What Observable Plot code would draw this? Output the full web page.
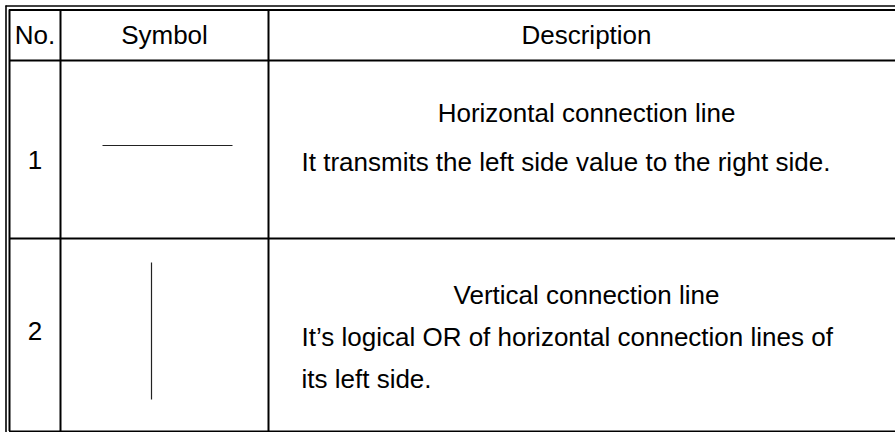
<!DOCTYPE html>
<html>
<head>
<meta charset="utf-8">
<script src="https://cdn.jsdelivr.net/npm/d3@7"></script>
<script src="https://cdn.jsdelivr.net/npm/@observablehq/plot@0.6"></script>
<style>
  html, body { margin: 0; padding: 0; background: #fff; }
  #chart svg { display: block; }
</style>
</head>
<body>
<div id="chart"></div>
<script>
// ---- table content ----
const headers = ["No.", "Symbol", "Description"];
const numbers = ["1", "2"];
const symbols = ["horizontal", "vertical"];
const titles = ["Horizontal connection line", "Vertical connection line"];
const details = [
  ["It transmits the left side value to the right side."],
  ["It\u2019s logical OR of horizontal connection lines of", "its left side."]
];

// ---- layout (pixels) ----
const W = 895, H = 432;
const colEdges = [9, 60, 268, 904];
const rowEdges = [9.5, 60, 238, 431];
const outer = {x: 5.5, y: 5.5};
const headerY = 35;
const numberY = [160, 331];
const titleY = [113, 295];
const detailY0 = [162, 337];
const lineGap = 42;
const detailX = 301;
const symH = {y: 145, x1: 102, x2: 232};
const symV = {x: 151, y1: 262, y2: 399};
const font = "'Liberation Sans', Arial, Helvetica, sans-serif";
const fs = 26;

const center = i => (colEdges[i] + colEdges[i + 1]) / 2;

const headerData = headers.map((t, i) => ({t, x: center(i), y: headerY}));
const numData = numbers.map((t, i) => ({t, x: center(0), y: numberY[i]}));
const titleData = titles.map((t, i) => ({t, x: center(2), y: titleY[i]}));
const detailData = details.flatMap((lines, r) =>
  lines.map((t, k) => ({t, x: detailX, y: detailY0[r] + k * lineGap})));

// grid lines
const hLines = rowEdges.map(y => ({x1: colEdges[0], x2: W, y}));
const vLines = colEdges.slice(0, 3).map(x => ({x, y1: rowEdges[0], y2: rowEdges[3]}));

const symbolSegs = symbols.map(s => s === "horizontal"
  ? {x1: symH.x1, x2: symH.x2, y1: symH.y, y2: symH.y}
  : {x1: symV.x, x2: symV.x, y1: symV.y1, y2: symV.y2});

const chart = Plot.plot({
  width: W, height: H,
  margin: 0,
  x: {domain: [0, W], range: [0, W], axis: null},
  y: {domain: [0, H], range: [0, H], axis: null},
  style: {fontFamily: font, background: "#fff"},
  marks: [
    // outer frame (double line)
    Plot.ruleY([outer.y], {x1: outer.x, x2: W, stroke: "#000", strokeWidth: 1.6}),
    Plot.ruleX([outer.x], {y1: outer.y, y2: H, stroke: "#000", strokeWidth: 1.6}),
    // table grid
    Plot.ruleY(hLines, {y: "y", x1: "x1", x2: "x2", stroke: "#000", strokeWidth: 2}),
    Plot.ruleX(vLines, {x: "x", y1: "y1", y2: "y2", stroke: "#000", strokeWidth: 2}),
    // symbols
    Plot.link(symbolSegs, {x1: "x1", y1: "y1", x2: "x2", y2: "y2", stroke: "#222", strokeWidth: 1.2}),
    // texts
    Plot.text(headerData, {x: "x", y: "y", text: "t", fontSize: fs, fill: "#000", textAnchor: "middle", lineAnchor: "middle"}),
    Plot.text(numData, {x: "x", y: "y", text: "t", fontSize: fs, fill: "#000", textAnchor: "middle", lineAnchor: "middle"}),
    Plot.text(titleData, {x: "x", y: "y", text: "t", fontSize: fs, fill: "#000", textAnchor: "middle", lineAnchor: "middle"}),
    Plot.text(detailData, {x: "x", y: "y", text: "t", fontSize: fs, fill: "#000", textAnchor: "start", lineAnchor: "middle"})
  ]
});
document.getElementById("chart").appendChild(chart);
</script>
</body>
</html>
